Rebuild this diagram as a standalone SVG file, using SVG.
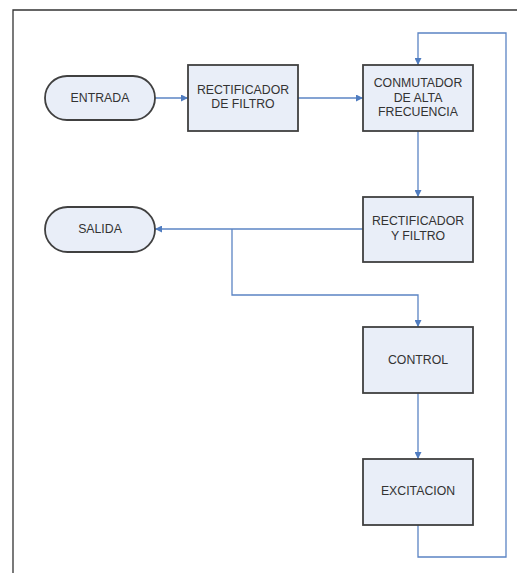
<svg xmlns="http://www.w3.org/2000/svg" width="517" height="573" viewBox="0 0 517 573">
<style>
.box{fill:#e9eef8;stroke:#404040;stroke-width:1.8}
.t{font-family:"Liberation Sans",Arial,sans-serif;font-size:12.3px;fill:#333;text-anchor:middle;dominant-baseline:central}
.c{fill:none;stroke:#5b84c4;stroke-width:1.3}
</style>
<defs>
<marker id="ah" viewBox="0 0 10 10" refX="10" refY="5" markerWidth="7" markerHeight="7" orient="auto" markerUnits="userSpaceOnUse">
<path d="M0,0 L10,5 L0,10 z" fill="#4f7cc0"/>
</marker>
</defs>
<rect width="517" height="573" fill="#fff"/>
<path d="M13,573 V10 H517" fill="none" stroke="#333" stroke-width="1.3"/>
<g id="connectors">
<path class="c" d="M155,98 H188" marker-end="url(#ah)"/>
<path class="c" d="M298,98 H363" marker-end="url(#ah)"/>
<path class="c" d="M418,131 V197" marker-end="url(#ah)"/>
<path class="c" d="M363,229 H155" marker-end="url(#ah)"/>
<path class="c" d="M232,229 V295 H418 V327" marker-end="url(#ah)"/>
<path class="c" d="M418,393 V459" marker-end="url(#ah)"/>
<path class="c" d="M418,525 V557 H506 V33 H418 V65" marker-end="url(#ah)"/>
</g>
<g id="entrada">
<rect class="box" x="45" y="76" width="110" height="44" rx="22"/>
<text class="t" x="100" y="98">ENTRADA</text>
</g>
<g id="rectificador1">
<rect class="box" x="188" y="65" width="110" height="66"/>
<text class="t" x="243" y="90">RECTIFICADOR</text>
<text class="t" x="243" y="104">DE FILTRO</text>
</g>
<g id="conmutador">
<rect class="box" x="363" y="65" width="110" height="66"/>
<text class="t" x="418" y="83">CONMUTADOR</text>
<text class="t" x="418" y="98">DE ALTA</text>
<text class="t" x="418" y="112">FRECUENCIA</text>
</g>
<g id="rectificador2">
<rect class="box" x="363" y="197" width="110" height="65"/>
<text class="t" x="418" y="221">RECTIFICADOR</text>
<text class="t" x="418" y="236">Y FILTRO</text>
</g>
<g id="salida">
<rect class="box" x="45" y="207" width="110" height="45" rx="22.5"/>
<text class="t" x="100" y="229">SALIDA</text>
</g>
<g id="control">
<rect class="box" x="363" y="327" width="110" height="66"/>
<text class="t" x="418" y="360">CONTROL</text>
</g>
<g id="excitacion">
<rect class="box" x="363" y="459" width="110" height="66"/>
<text class="t" x="418" y="491">EXCITACION</text>
</g>
</svg>
